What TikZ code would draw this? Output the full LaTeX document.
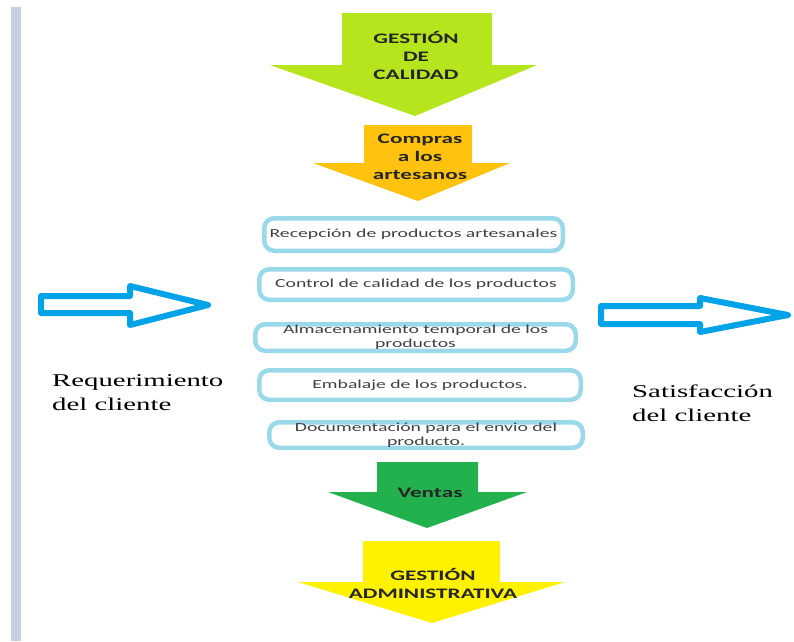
\documentclass[tikz,border=0pt]{standalone}
\usepackage{fontspec}
\usepackage{tikz}

\newfontfamily\widesans[FakeStretch=1.6]{Carlito}
\newfontfamily\wideserif[FakeStretch=1.6]{Liberation Serif}

\definecolor{stripgray}{HTML}{C5CFE0}
\definecolor{calidadlime}{HTML}{B5E61D}
\definecolor{comprasorange}{HTML}{FFC20E}
\definecolor{ventasgreen}{HTML}{22B14C}
\definecolor{adminyellow}{HTML}{FFF200}
\definecolor{flowblue}{HTML}{00A2E8}
\definecolor{stageblue}{HTML}{99D9EA}

\begin{document}
\begin{tikzpicture}[x=1pt, y=-1pt,
        title/.style={font=\widesans\bfseries\fontsize{14.5}{18}\selectfont,
            text=black!85, align=center, inner sep=0pt},
        stage/.style={draw=stageblue, line width=4.5pt, rounded corners=10pt,
            font=\widesans\fontsize{12.3}{14}\selectfont,
            text=black!75, align=center, inner sep=0pt},
        flow/.style={draw=flowblue, line width=6pt, line join=round, fill=white},
        client/.style={font=\wideserif\fontsize{18}{24}\selectfont,
            align=left, anchor=west, inner sep=0pt}]

        \useasboundingbox (0,0) rectangle (794,641);

        \fill[stripgray]
            (11,7) rectangle (21,641);

        % downward block arrows
        \fill[calidadlime]
            (342,13) -- (492,13) -- (492,65) -- (537,65)
            -- (415,116) -- (270,65) -- (342,65) -- cycle;

        \fill[comprasorange]
            (364,125) -- (472,125) -- (472,163) -- (510,163)
            -- (418,201) -- (313,163) -- (364,163) -- cycle;

        \fill[ventasgreen]
            (377,462) -- (478,462) -- (478,492) -- (527,492)
            -- (427,528) -- (328,492) -- (377,492) -- cycle;

        \fill[adminyellow]
            (363,541) -- (500,541) -- (500,582) -- (565,582)
            -- (432,623) -- (298,582) -- (363,582) -- cycle;

        \node[title] (calidad) at (416,55) {GESTIÓN\\DE\\CALIDAD};
        \node[title] (compras) at (420,157) {Compras\\a los\\artesanos};
        \node[title] (ventas) at (430,493) {Ventas};
        \node[title] (administrativa) at (433,583) {GESTIÓN\\ADMINISTRATIVA};

        % process stages
        \node[stage, minimum width=298.5pt, minimum height=32.5pt]
            (recepcion) at (413.5,234.5) {Recepción de productos artesanales};
        \node[stage, minimum width=313.5pt, minimum height=30.5pt]
            (control) at (416,284.5) {Control de calidad de los productos};
        \node[stage, minimum width=320.5pt, minimum height=26.5pt]
            (almacen) at (415.5,337.5) {Almacenamiento temporal de los\\productos};
        \node[stage, minimum width=321.5pt, minimum height=29.5pt]
            (embalaje) at (420,385) {Embalaje de los productos.};
        \node[stage, minimum width=313.5pt, minimum height=25.5pt]
            (documentacion) at (426,435) {Documentación para el envio del\\producto.};

        % client in and out
        \draw[flow]
            (41,296) -- (130,296) -- (130,286) -- (208,305)
            -- (130,325) -- (130,313) -- (41,313) -- cycle;

        \draw[flow]
            (601,306) -- (700,306) -- (700,298) -- (788,315)
            -- (700,332) -- (700,324) -- (601,324) -- cycle;

        \node[client] (requerimiento) at (52,393) {Requerimiento\\del cliente};
        \node[client] (satisfaccion) at (632,403.5) {Satisfacción\\del cliente};

\end{tikzpicture}
\end{document}
